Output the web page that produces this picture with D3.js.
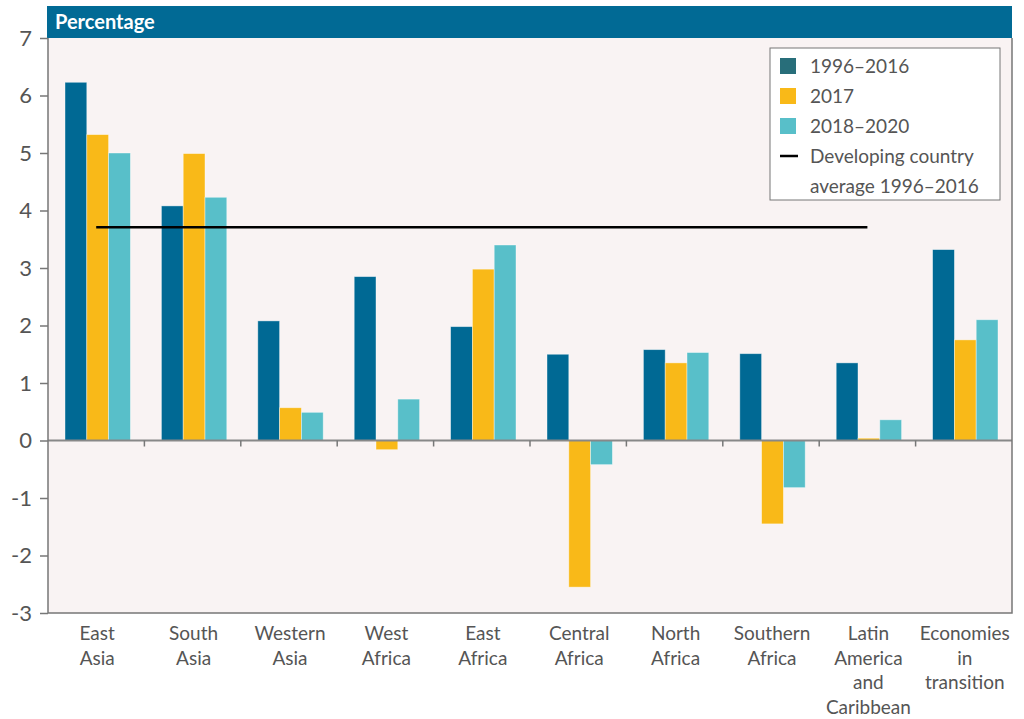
<!DOCTYPE html>
<html>
<head>
<meta charset="utf-8">
<script src="https://cdn.jsdelivr.net/npm/d3@7"></script>
<style>
body { margin: 0; background: #fff; }
text { font-family: Lato, "Open Sans", sans-serif; }
</style>
</head>
<body>
<script>
var categories = ["East Asia", "South Asia", "Western Asia", "West Africa", "East Africa",
    "Central Africa", "North Africa", "Southern Africa", "Latin America and Caribbean", "Economies in transition"];
var labelLines = [["East", "Asia"], ["South", "Asia"], ["Western", "Asia"], ["West", "Africa"], ["East", "Africa"],
    ["Central", "Africa"], ["North", "Africa"], ["Southern", "Africa"], ["Latin", "America", "and", "Caribbean"], ["Economies", "in", "transition"]];
var seriesNames = ["1996–2016", "2017", "2018–2020"];
var v1996 = [6.23, 4.08, 2.08, 2.85, 1.98, 1.50, 1.58, 1.51, 1.35, 3.32];
var v2017 = [5.32, 4.99, 0.57, -0.16, 2.98, -2.55, 1.35, -1.45, 0.04, 1.75];
var v2018 = [5.00, 4.23, 0.49, 0.72, 3.40, -0.42, 1.53, -0.82, 0.36, 2.10];
var devAvg = 3.71;
var yTicks = [7, 6, 5, 4, 3, 2, 1, 0, -1, -2, -3];

var width = 1024, height = 719;
var plotL = 48, plotR = 1012, plotT = 38, plotB = 613;
var colors = ["#006994", "#f9b918", "#58bfc9"];
var legendColors = ["#286e7a", "#f9b918", "#58bfc9"];

var svg = d3.select("body").append("svg")
    .attr("width", width).attr("height", height);

var x = d3.scaleBand().domain(categories).range([plotL, plotR]).paddingInner(0).paddingOuter(0);
var xs = d3.scaleBand().domain(seriesNames).range([17, x.bandwidth() - 14]);
var y = d3.scaleLinear().domain([-3, 7]).range([plotB, plotT]);

// plot background
svg.append("rect").attr("x", plotL).attr("y", plotT).attr("width", plotR - plotL).attr("height", plotB - plotT)
    .attr("fill", "#f9f3f3");

// header band
svg.append("rect").attr("x", plotL - 1).attr("y", 6).attr("width", plotR - plotL + 1).attr("height", plotT - 6)
    .attr("fill", "#016a95");
svg.append("text").attr("x", plotL + 7).attr("y", 29).attr("fill", "#fff")
    .attr("font-size", 20).attr("font-weight", "bold").text("Percentage");

// bars
var series = [v1996, v2017, v2018];
series.forEach(function(vals, si) {
    svg.append("g").selectAll("rect").data(vals).enter().append("rect")
        .attr("x", function(d, i) { return x(categories[i]) + xs(seriesNames[si]); })
        .attr("width", xs.bandwidth())
        .attr("y", function(d) { return y(Math.max(0, d)); })
        .attr("height", function(d) { return Math.abs(y(d) - y(0)); })
        .attr("fill", colors[si])
        .attr("stroke", "#ffffff").attr("stroke-opacity", 0.5).attr("stroke-width", 0.8);
});

// zero line with ticks between categories
svg.append("line").attr("x1", plotL).attr("x2", plotR).attr("y1", y(0)).attr("y2", y(0))
    .attr("stroke", "#888").attr("stroke-width", 2);
svg.append("g").selectAll("line").data(categories.slice(1)).enter().append("line")
    .attr("x1", function(d) { return x(d); }).attr("x2", function(d) { return x(d); })
    .attr("y1", y(0)).attr("y2", y(0) + 6)
    .attr("stroke", "#777").attr("stroke-width", 1.5);

// developing country average
svg.append("line")
    .attr("x1", x(categories[0]) + x.bandwidth() / 2)
    .attr("x2", x(categories[8]) + x.bandwidth() / 2)
    .attr("y1", y(devAvg)).attr("y2", y(devAvg))
    .attr("stroke", "#000").attr("stroke-width", 2.5);

// frame
svg.append("path")
    .attr("d", "M" + plotL + "," + plotT + "V" + plotB + "H" + plotR + "V" + plotT)
    .attr("fill", "none").attr("stroke", "#777").attr("stroke-width", 1.5);

// y axis (plain hyphen for negatives, as in the original)
var yAxis = svg.append("g").attr("transform", "translate(" + plotL + ",0)")
    .call(d3.axisLeft(y).tickValues(yTicks).tickSize(8).tickPadding(8).tickFormat(function(d) { return String(d); }));
yAxis.select(".domain").remove();
yAxis.selectAll(".tick line").attr("stroke", "#777").attr("stroke-width", 1.5);
yAxis.selectAll(".tick text").attr("fill", "#555").attr("font-size", 22)
    .attr("font-family", "Lato, 'Open Sans', sans-serif");

// x labels
var xl = svg.append("g").selectAll("text").data(categories).enter().append("text")
    .attr("x", function(d) { return x(d) + x.bandwidth() / 2 + 1; })
    .attr("y", 640)
    .attr("text-anchor", "middle").attr("fill", "#555").attr("font-size", 19);
xl.each(function(d, i) {
    var t = d3.select(this);
    labelLines[i].forEach(function(line, li) {
        t.append("tspan").attr("x", t.attr("x")).attr("dy", li === 0 ? 0 : 24.5).text(line);
    });
});

// legend
var lg = svg.append("g").attr("transform", "translate(770,48)");
lg.append("rect").attr("width", 230).attr("height", 152).attr("fill", "#fff")
    .attr("stroke", "#777").attr("stroke-width", 1);
seriesNames.forEach(function(name, i) {
    lg.append("rect").attr("x", 10).attr("y", 10 + i * 30).attr("width", 16).attr("height", 16)
        .attr("fill", legendColors[i]);
    lg.append("text").attr("x", 40).attr("y", 25 + i * 30).attr("fill", "#555").attr("font-size", 19).text(name);
});
lg.append("line").attr("x1", 10).attr("x2", 28).attr("y1", 108).attr("y2", 108)
    .attr("stroke", "#000").attr("stroke-width", 2.5);
lg.append("text").attr("x", 40).attr("y", 115).attr("fill", "#555").attr("font-size", 19).text("Developing country");
lg.append("text").attr("x", 40).attr("y", 145).attr("fill", "#555").attr("font-size", 19).text("average 1996–2016");
</script>
</body>
</html>
